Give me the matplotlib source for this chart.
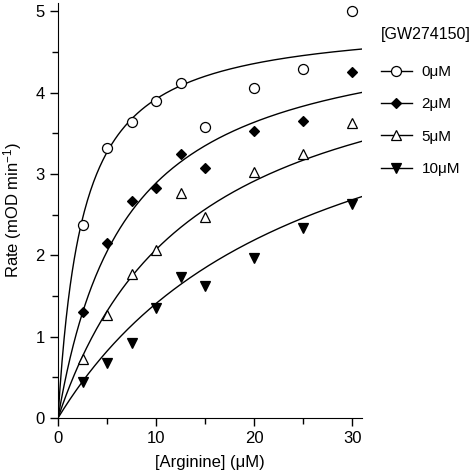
import matplotlib
matplotlib.use("Agg")
import matplotlib.pyplot as plt
import numpy as np
from matplotlib.ticker import MultipleLocator

plt.rcParams['font.family'] = ['Liberation Sans', 'DejaVu Sans']
plt.rcParams['mathtext.fontset'] = 'custom'
plt.rcParams['mathtext.rm'] = 'Liberation Sans'
plt.rcParams['mathtext.default'] = 'rm'

# --- Data ---
arginine = [2.5, 5, 7.5, 10, 12.5, 15, 20, 25, 30]
rate_0uM = [2.37, 3.32, 3.64, 3.90, 4.12, 3.58, 4.05, 4.29, 5.00]
rate_2uM = [1.30, 2.15, 2.67, 2.83, 3.25, 3.07, 3.53, 3.65, 4.25]
rate_5uM = [0.73, 1.26, 1.77, 2.07, 2.77, 2.47, 3.02, 3.25, 3.62]
rate_10uM = [0.44, 0.68, 0.92, 1.35, 1.73, 1.62, 1.97, 2.33, 2.63]
inhibitor = [0, 2, 5, 10]
labels = ["0μM", "2μM", "5μM", "10μM"]

# competitive-inhibition fit parameters (estimated from the drawn curves)
VMAX = 4.9
KM = 2.5
KI = 1.12

series = [rate_0uM, rate_2uM, rate_5uM, rate_10uM]
styles = [
    dict(marker='o', mfc='white', mec='black', ms=7.2),
    dict(marker='D', mfc='black', mec='black', ms=5.6),
    dict(marker='^', mfc='white', mec='black', ms=7.6),
    dict(marker='v', mfc='black', mec='black', ms=7.6),
]

fig = plt.figure(figsize=(4.74, 4.74), dpi=100)
ax = fig.add_axes([58 / 474, 56 / 474, 304 / 474, 415 / 474])

s = np.linspace(0, 31, 300)
handles = []
for conc, vals, st, lab in zip(inhibitor, series, styles, labels):
    fit = VMAX * s / (KM * (1 + conc / KI) + s)
    ax.plot(s, fit, color='black', lw=1.0)
    ax.plot(arginine, vals, ls='none', mew=0.9, **st)
    h, = ax.plot([], [], color='black', lw=1.0, mew=0.9, label=lab, **st)
    handles.append(h)

ax.set_xlim(0, 31)
ax.set_ylim(0, 5.1)
ax.xaxis.set_major_locator(MultipleLocator(10))
ax.xaxis.set_minor_locator(MultipleLocator(5))
ax.yaxis.set_major_locator(MultipleLocator(1))
ax.yaxis.set_minor_locator(MultipleLocator(0.5))
ax.tick_params(which='major', direction='out', length=6, width=1, labelsize=12)
ax.tick_params(which='minor', direction='out', length=4, width=1)
ax.spines['top'].set_visible(False)
ax.spines['right'].set_visible(False)
ax.set_xlabel("[Arginine] (μM)", fontsize=12, labelpad=6)
ax.set_ylabel("Rate (mOD min$^{-1}$)", fontsize=12, labelpad=8)

# legend title as its own text, entries below
fig.text(381 / 474, 1 - 35 / 474, "[GW274150]", fontsize=11.5,
         ha='left', va='center')
leg = fig.legend(handles=handles, loc='upper left',
                 bbox_to_anchor=(381 / 474, 1 - 65 / 474), frameon=False,
                 fontsize=11, handlelength=2.0,
                 handletextpad=0.65, labelspacing=1.2, borderpad=0,
                 borderaxespad=0)

fig.savefig("out.png", dpi=100)
